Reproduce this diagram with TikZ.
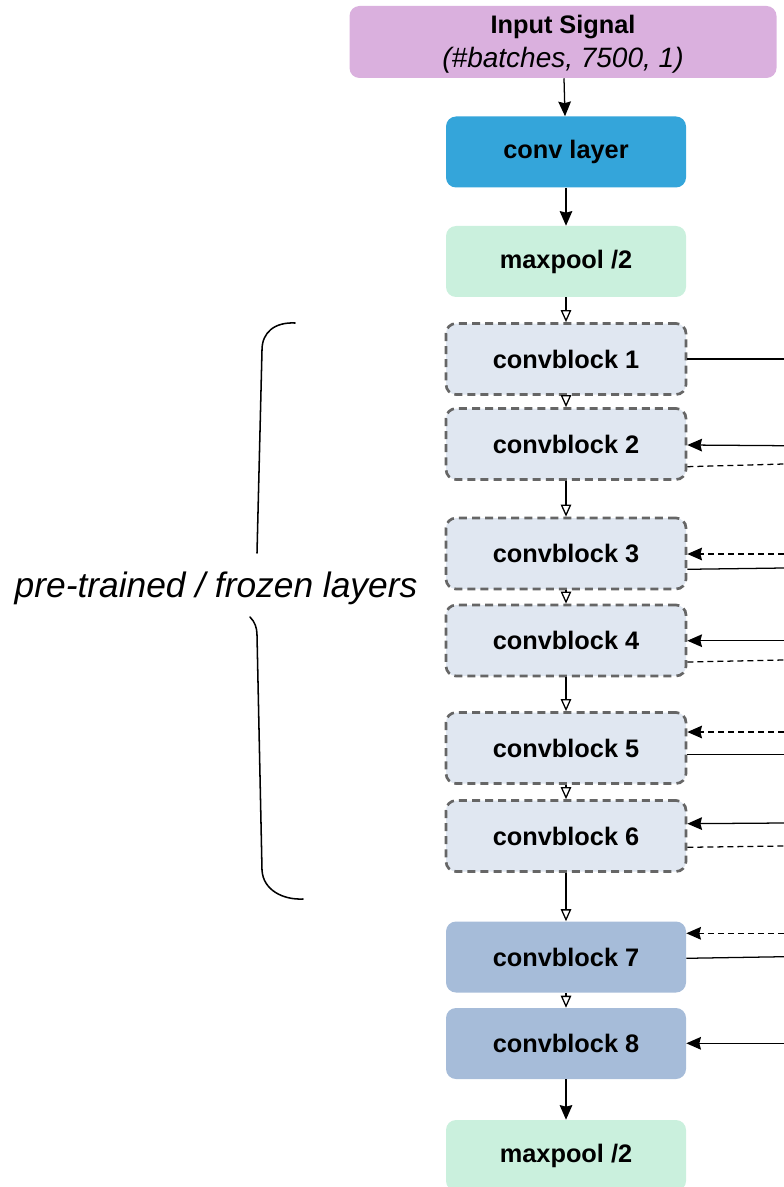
\documentclass[tikz,border=0pt]{standalone}
\usepackage{fontspec}
\setmainfont{Liberation Sans}
\usetikzlibrary{arrows.meta}
\definecolor{inputfill}{RGB}{218,176,222}
\definecolor{convfill}{RGB}{52,165,218}
\definecolor{poolfill}{RGB}{202,240,221}
\definecolor{frozenfill}{RGB}{224,231,241}
\definecolor{trainfill}{RGB}{166,188,217}
\definecolor{frozenedge}{RGB}{102,102,102}
\begin{document}
\begin{tikzpicture}[x=0.75pt,y=-0.75pt,
  box/.style={rounded corners=7.5pt, minimum width=180pt, minimum height=53.25pt,
    inner sep=0pt, font=\fontsize{19}{22}\selectfont\bfseries, text=black},
  inputbox/.style={box, fill=inputfill, minimum width=320.25pt, minimum height=54pt},
  inputtext/.style={align=center, inner sep=0pt, font=\fontsize{19}{25.5}\selectfont},
  convbox/.style={box, fill=convfill},
  poolbox/.style={box, fill=poolfill},
  frozenbox/.style={box, fill=frozenfill, draw=frozenedge, line width=2pt,
    dash pattern=on 6pt off 3.8pt},
  trainbox/.style={box, fill=trainfill},
  fillarrow/.style={line width=0.95pt, -{Stealth[length=11pt,width=9.5pt,inset=1.2pt]}},
  openarrow/.style={line width=0.95pt, -{Triangle[open,fill=white,length=9pt,width=7.8pt]}},
  plainline/.style={line width=0.95pt},
  dashline/.style={line width=0.95pt, dash pattern=on 4.5pt off 3pt},
  dasharrow/.style={dashline, -{Stealth[length=11pt,width=9.5pt,inset=1.2pt]}},
  bracestyle/.style={line width=1.15pt, line cap=round}
]
\useasboundingbox (0,0) rectangle (784,1187);
\clip (0,0) rectangle (784,1187);

% nodes
\node[inputbox] (inp) at (563,42) {};
\node[inputtext] (inptext) at (563,44) {\textbf{Input Signal}\\{\itshape\fontsize{21}{25.5}\selectfont (\#batches, 7500, 1)}};
\node[convbox] (conv) at (566,152) {conv layer};
\node[poolbox] (mp1) at (566,261.5) {maxpool /2};
\node[frozenbox] (cb1) at (566,359) {convblock 1};
\node[frozenbox] (cb2) at (566,444) {convblock 2};
\node[frozenbox] (cb3) at (566,553.5) {convblock 3};
\node[frozenbox] (cb4) at (566,640.5) {convblock 4};
\node[frozenbox] (cb5) at (566,748) {convblock 5};
\node[frozenbox] (cb6) at (566,836) {convblock 6};
\node[trainbox] (cb7) at (566,957) {convblock 7};
\node[trainbox] (cb8) at (566,1043.5) {convblock 8};
\node[poolbox] (mp2) at (566,1155.5) {maxpool /2};

% vertical flow
\draw[fillarrow] (inp) -- (conv);
\draw[fillarrow] (conv) -- (mp1);
\draw[openarrow] (mp1) -- (cb1);
\draw[openarrow] (cb1) -- (cb2);
\draw[openarrow] (cb2) -- (cb3);
\draw[openarrow] (cb3) -- (cb4);
\draw[openarrow] (cb4) -- (cb5);
\draw[openarrow] (cb5) -- (cb6);
\draw[openarrow] (cb6) -- (cb7);
\draw[openarrow] (cb7) -- (cb8);
\draw[fillarrow] (cb8) -- (mp2);

% right-side connectors
\coordinate (r1o) at (784,359);   \coordinate (h1o) at (0,359);
\coordinate (r2i) at (784,445.7); \coordinate (h2i) at (0,445);
\coordinate (r2o) at (784,464);   \coordinate (h2o) at (0,466.7);
\coordinate (r3i) at (784,554);   \coordinate (h3i) at (0,554);
\coordinate (r3o) at (784,568);   \coordinate (h3o) at (0,569.3);
\coordinate (r4i) at (784,640.7); \coordinate (h4i) at (0,640.7);
\coordinate (r4o) at (784,660);   \coordinate (h4o) at (0,662);
\coordinate (r5i) at (784,732);   \coordinate (h5i) at (0,732);
\coordinate (r5o) at (784,754.3); \coordinate (h5o) at (0,754.3);
\coordinate (r6i) at (784,823);   \coordinate (h6i) at (0,823.7);
\coordinate (r6o) at (784,846);   \coordinate (h6o) at (0,847.3);
\coordinate (r7i) at (784,933.3); \coordinate (h7i) at (0,933.3);
\coordinate (r7o) at (784,956.7); \coordinate (h7o) at (0,958.3);
\coordinate (r8i) at (784,1043.3);\coordinate (h8i) at (0,1043.3);

\draw[plainline] (cb1.east |- h1o) -- (r1o);
\draw[fillarrow] (r2i) -- (cb2.east |- h2i);
\draw[dashline]  (cb2.east |- h2o) -- (r2o);
\draw[dasharrow] (r3i) -- (cb3.east |- h3i);
\draw[plainline] (cb3.east |- h3o) -- (r3o);
\draw[fillarrow] (r4i) -- (cb4.east |- h4i);
\draw[dashline]  (cb4.east |- h4o) -- (r4o);
\draw[dasharrow] (r5i) -- (cb5.east |- h5i);
\draw[plainline] (cb5.east |- h5o) -- (r5o);
\draw[fillarrow] (r6i) -- (cb6.east |- h6i);
\draw[dashline]  (cb6.east |- h6o) -- (r6o);
\draw[dasharrow] (r7i) -- (cb7.east |- h7i);
\draw[plainline] (cb7.east |- h7o) -- (r7o);
\draw[fillarrow] (r8i) -- (cb8.east |- h8i);

% brace and label
\draw[bracestyle] (295,323) .. controls (275,322) and (262,332) .. (262,350) -- (257,553);
\draw[bracestyle] (250,617) .. controls (255,622) and (257,628) .. (257,635) -- (262,870)
   .. controls (263,890) and (283,900) .. (303,899);
\node[font=\fontsize{26.5}{30}\selectfont\itshape, anchor=base, inner sep=0pt] (lbl) at (216,597) {pre-trained / frozen layers};
\end{tikzpicture}
\end{document}
